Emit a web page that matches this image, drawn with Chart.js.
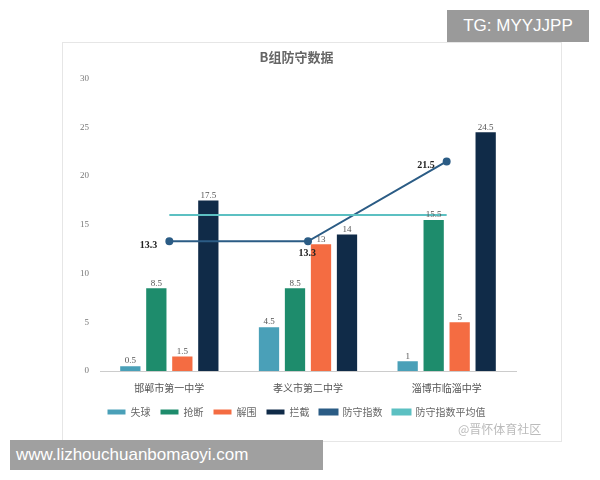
<!DOCTYPE html>
<html><head><meta charset="utf-8">
<script src="https://cdn.jsdelivr.net/npm/chart.js@4"></script>
<style>
body{margin:0;background:#fff;width:600px;height:480px;position:relative;overflow:hidden;font-family:"Noto Sans CJK SC",sans-serif}
#wrap{position:absolute;left:62px;top:42px;width:498px;height:398px;border:1px solid #e6e6e6}
.tg{position:absolute;left:447px;top:10px;width:142px;height:32px;background:#9a9a9a;color:#fff;font:17px "Liberation Sans",sans-serif;line-height:32px;text-align:center}
.url{position:absolute;left:10px;top:440px;width:307px;height:30px;background:#a0a0a0;color:#fff;font:17px "Liberation Sans",sans-serif;line-height:30px;padding-left:6px}
.wm{position:absolute;left:458px;top:420px;color:#bbb;font-size:12px}
</style></head><body>
<div id="wrap"><canvas id="c" width="498" height="398"></canvas></div>
<div class="wm">@晋怀体育社区</div>
<div class="tg">TG: MYYJJPP</div>
<div class="url">www.lizhouchuanbomaoyi.com</div>
<script>
const categories=["邯郸市第一中学","孝义市第二中学","淄博市临淄中学"];
const shiqiu=[0.5,4.5,1];
const qiangduan=[8.5,8.5,15.5];
const jiewei=[1.5,13,5];
const lanjie=[17.5,14,24.5];
const fangshou=[13.3,13.3,21.5];
const avg=[16,16,16];
const labelPlugin={id:'lbl',afterDatasetsDraw(ch){
 const ctx=ch.ctx;ctx.save();ctx.textAlign='center';
 ch.data.datasets.forEach((ds,i)=>{
  const m=ch.getDatasetMeta(i);
  if(ds.type==='line'){ if(i!==4)return;
   ctx.font='bold 10px "Liberation Serif",serif';ctx.fillStyle='#222';ctx.textAlign='right';
   m.data.forEach((p,j)=>{const dy=j==1?12:4;ctx.fillText(ds.data[j],p.x-(j==1?-8:12),p.y+dy);});
   ctx.textAlign='center';return;}
  ctx.font='9px "Liberation Serif",serif';ctx.fillStyle='#555';
  m.data.forEach((b,j)=>ctx.fillText(ds.data[j],b.x,b.y-5));
 });ctx.restore();}};
new Chart(document.getElementById('c'),{
 data:{labels:categories,datasets:[
  {type:'bar',label:'失球',data:shiqiu,backgroundColor:'#4aa0b8',order:2},
  {type:'bar',label:'抢断',data:qiangduan,backgroundColor:'#1e8c6c',order:2},
  {type:'bar',label:'解围',data:jiewei,backgroundColor:'#f46c42',order:2},
  {type:'bar',label:'拦截',data:lanjie,backgroundColor:'#102b48',order:2},
  {type:'line',label:'防守指数',data:fangshou,borderColor:'#2b5c85',backgroundColor:'#2b5c85',borderWidth:2,pointRadius:3,order:1},
  {type:'line',label:'防守指数平均值',data:avg,borderColor:'#5cc0c2',backgroundColor:'#5cc0c2',borderWidth:2,pointRadius:0,order:0}
 ]},
 options:{responsive:false,animation:false,
  layout:{padding:{left:14,right:45,top:0,bottom:14}},
  datasets:{bar:{categoryPercentage:0.75,barPercentage:0.78}},
  plugins:{title:{display:true,text:'B组防守数据',color:'#666',font:{size:13,family:'"Noto Sans CJK SC"'},padding:{top:6,bottom:14}},
   legend:{position:'bottom',labels:{color:'#666',boxWidth:18,boxHeight:5,sort:(a,b)=>a.datasetIndex-b.datasetIndex,font:{size:10,family:'"Noto Sans CJK SC"'}}},tooltip:{enabled:false}},
  scales:{x:{grid:{display:false},border:{color:'#ccc'},ticks:{color:'#555',font:{size:10,family:'"Noto Sans CJK SC"'}}},
   y:{min:0,max:30,ticks:{stepSize:5,color:'#777',font:{size:9,family:'"Liberation Serif"'}},grid:{display:false},border:{display:false}}}
 },plugins:[labelPlugin]});
</script></body></html>
